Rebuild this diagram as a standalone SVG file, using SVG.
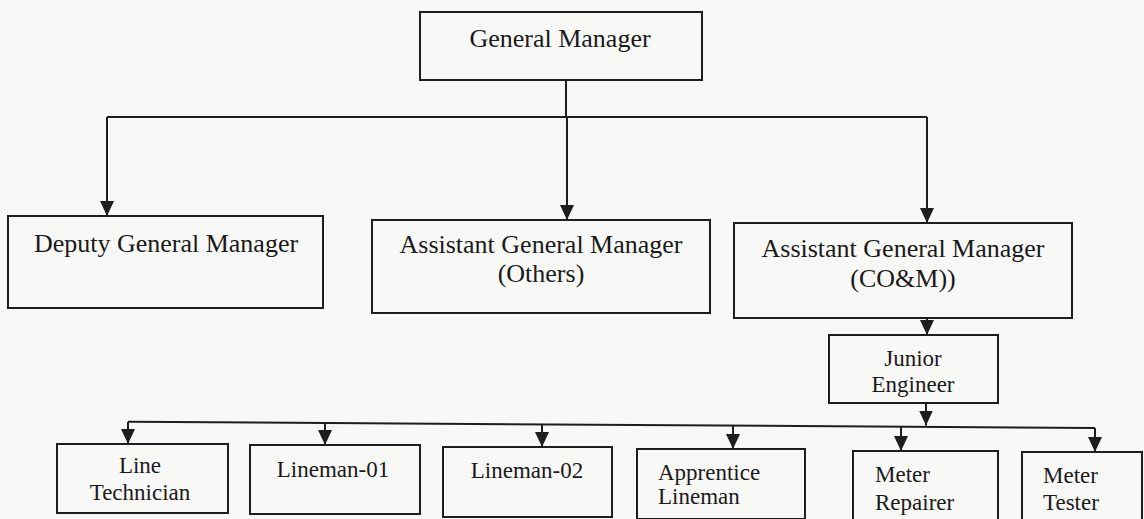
<svg xmlns="http://www.w3.org/2000/svg" width="1144" height="519" viewBox="0 0 1144 519">
  <style>
    .box { fill: none; stroke: #1e1e1e; stroke-width: 2; }
    .t { font-family: "Liberation Serif", "Times New Roman", serif; fill: #1a1a1a; }
    .big { font-size: 26px; }
    .sm { font-size: 23px; }
    .c { text-anchor: middle; }
    .conn { fill: none; stroke: #1e1e1e; stroke-width: 2; }
  </style>
  <defs>
    <marker id="ah" markerUnits="userSpaceOnUse" markerWidth="16" markerHeight="14" refX="15" refY="7" orient="auto">
      <path d="M0,0 L15,7 L0,14 z" fill="#1e1e1e"/>
    </marker>
  </defs>
  <rect width="1144" height="519" fill="#f8f8f6"/>

  <g id="connectors">
    <path class="conn" d="M566,80 V117"/>
    <path class="conn" d="M107,117 H927"/>
    <path class="conn" d="M107,117 V216" marker-end="url(#ah)"/>
    <path class="conn" d="M567,117 V220" marker-end="url(#ah)"/>
    <path class="conn" d="M927,117 V223" marker-end="url(#ah)"/>
    <path class="conn" d="M927,318 V335" marker-end="url(#ah)"/>
    <path class="conn" d="M926,403 V425.5" marker-end="url(#ah)"/>
    <path class="conn" d="M128,421.7 L1095,428"/>
    <path class="conn" d="M128,421.7 V444" marker-end="url(#ah)"/>
    <path class="conn" d="M325,423 V445" marker-end="url(#ah)"/>
    <path class="conn" d="M542,424.4 V447" marker-end="url(#ah)"/>
    <path class="conn" d="M733,425.6 V449" marker-end="url(#ah)"/>
    <path class="conn" d="M901,426.7 V451" marker-end="url(#ah)"/>
    <path class="conn" d="M1095,428 V452" marker-end="url(#ah)"/>
  </g>

  <g id="general-manager">
    <rect class="box" x="420" y="12" width="282" height="68"/>
    <text class="t big c" x="560" y="47">General Manager</text>
  </g>

  <g id="deputy-general-manager">
    <rect class="box" x="8" y="216" width="315" height="92"/>
    <text class="t big c" x="166" y="252">Deputy General Manager</text>
  </g>

  <g id="agm-others">
    <rect class="box" x="372" y="220" width="338" height="93"/>
    <text class="t big c" x="541" y="253">Assistant General Manager</text>
    <text class="t big c" x="541" y="282">(Others)</text>
  </g>

  <g id="agm-com">
    <rect class="box" x="734" y="223" width="338" height="95"/>
    <text class="t big c" x="903" y="257">Assistant General Manager</text>
    <text class="t big c" x="903" y="287">(CO&amp;M))</text>
  </g>

  <g id="junior-engineer">
    <rect class="box" x="829" y="335" width="169" height="68"/>
    <text class="t sm c" x="913" y="366">Junior</text>
    <text class="t sm c" x="913" y="392">Engineer</text>
  </g>

  <g id="line-technician">
    <rect class="box" x="57" y="444" width="171" height="69"/>
    <text class="t sm c" x="140" y="473">Line</text>
    <text class="t sm c" x="140" y="500">Technician</text>
  </g>

  <g id="lineman-01">
    <rect class="box" x="250" y="445" width="170" height="69"/>
    <text class="t sm c" x="333" y="477">Lineman-01</text>
  </g>

  <g id="lineman-02">
    <rect class="box" x="443" y="447" width="169" height="70"/>
    <text class="t sm c" x="527" y="478">Lineman-02</text>
  </g>

  <g id="apprentice-lineman">
    <rect class="box" x="637" y="449" width="168" height="70"/>
    <text class="t sm" x="658" y="480">Apprentice</text>
    <text class="t sm" x="658" y="504">Lineman</text>
  </g>

  <g id="meter-repairer">
    <rect class="box" x="853" y="451" width="145" height="72"/>
    <text class="t sm" x="875" y="482">Meter</text>
    <text class="t sm" x="875" y="510">Repairer</text>
  </g>

  <g id="meter-tester">
    <rect class="box" x="1022" y="452" width="120" height="72"/>
    <text class="t sm" x="1043" y="483">Meter</text>
    <text class="t sm" x="1043" y="510">Tester</text>
  </g>
</svg>
